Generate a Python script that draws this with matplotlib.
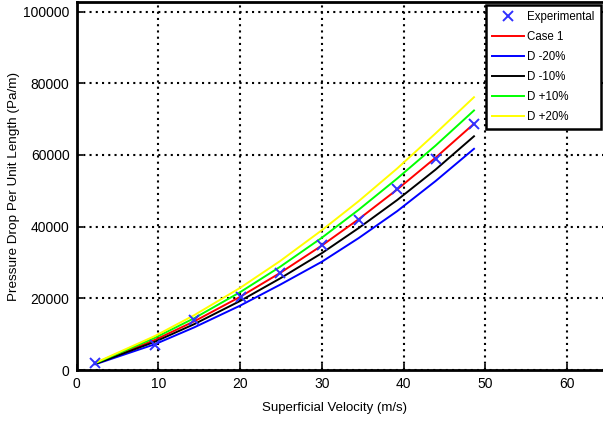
import matplotlib
matplotlib.use("Agg")
import matplotlib.pyplot as plt
from matplotlib.ticker import MultipleLocator

plt.rcParams['font.family'] = ['Liberation Sans', 'DejaVu Sans']

# Data
exp_x = [2.3, 9.6, 14.4, 20.1, 24.9, 30.0, 34.5, 39.2, 43.9, 48.6]
exp_y = [1870, 6970, 13950, 20280, 26970, 34870, 41840, 50400, 58860, 68620]

model_x = [2.3, 9.6, 14.4, 20.0, 24.9, 30.0, 34.5, 39.2, 43.9, 48.6]
case1 = [1790, 8420, 13580, 20400, 27080, 34730, 42070, 50340, 59220, 68700]
d_m20 = [1600, 7200, 11900, 17950, 23800, 30200, 36800, 44300, 52700, 61700]
d_m10 = [1700, 7900, 12800, 19250, 25550, 32600, 39600, 47400, 55900, 65200]
d_p10 = [1900, 9000, 14450, 21700, 28800, 36900, 44700, 53400, 62600, 72400]
d_p20 = [2000, 9500, 15300, 22900, 30400, 39000, 47100, 56200, 66000, 76100]

x_ticks = [0, 10, 20, 30, 40, 50, 60]

W, H = 603, 421
fig = plt.figure(figsize=(W / 100, H / 100), dpi=100)
left, right, top, bottom = 76.5, 649.0, 1.5, 370.0
ax = fig.add_axes([left / W, 1 - bottom / H, (right - left) / W, (bottom - top) / H])

ax.plot(exp_x, exp_y, linestyle='none', marker='x', color='#3030ff', markersize=6.5,
        markeredgewidth=1.4, label='Experimental', zorder=5)
ax.plot(model_x, case1, color='#ff0000', lw=1.4, label='Case 1')
ax.plot(model_x, d_m20, color='#0000ff', lw=1.4, label='D -20%')
ax.plot(model_x, d_m10, color='#000000', lw=1.4, label='D -10%')
ax.plot(model_x, d_p10, color='#00ff00', lw=1.4, label='D +10%')
ax.plot(model_x, d_p20, color='#ffff00', lw=1.4, label='D +20%')

ax.set_xlim(0, 70)
ax.set_ylim(0, 102800)
ax.set_xticks(x_ticks)
ax.yaxis.set_major_locator(MultipleLocator(20000))
ax.grid(True, color='black', linestyle=(0, (1, 2)), linewidth=1.5)
for s in ax.spines.values():
    s.set_linewidth(2.0)
ax.tick_params(direction='in', length=4, width=1.2, labelsize=10, pad=5)

ax.set_xlabel('Superficial Velocity (m/s)', fontsize=9.5)
ax.set_ylabel('Pressure Drop Per Unit Length (Pa/m)', fontsize=9.7)
ax.xaxis.set_label_coords((335 - left) / (right - left), -(402 - bottom) / (bottom - top))
ax.yaxis.set_label_coords((20 - left) / (right - left), (bottom - 186) / (bottom - top))

leg = fig.legend(loc='upper right', bbox_to_anchor=(601 / W, 1 - 5 / H),
                 fontsize=8.3, frameon=True, fancybox=False, edgecolor='black',
                 framealpha=1, handlelength=2.8, labelspacing=0.68,
                 borderpad=0.55, handletextpad=0.25, borderaxespad=0)
leg.get_frame().set_linewidth(1.8)

fig.savefig('out.png', dpi=100)
